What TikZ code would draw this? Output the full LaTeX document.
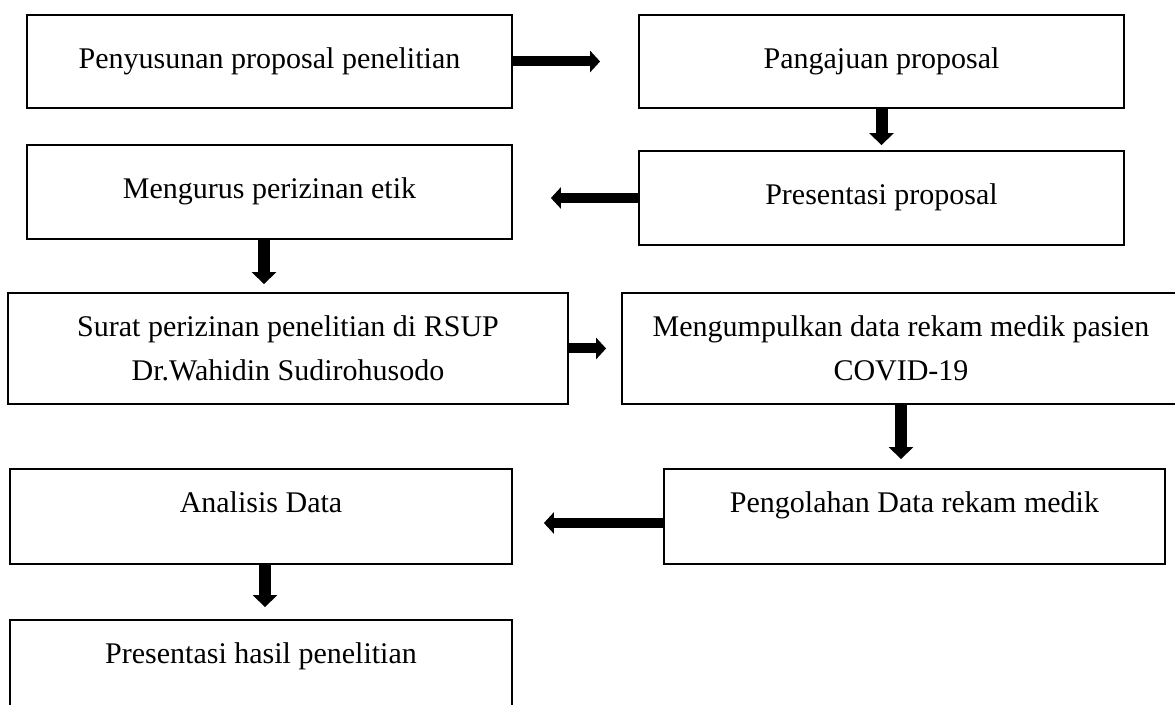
\documentclass[tikz,border=0pt]{standalone}
\usepackage{fontspec}
\setmainfont{Liberation Serif}
\usetikzlibrary{arrows.meta}

\begin{document}
\begin{tikzpicture}[
  x=0.5pt, y=-0.5pt,
  font=\fontsize{15}{22}\selectfont,
  box/.style={draw, line width=0.9pt, align=center, inner sep=0pt},
  single/.style={box, text height=10pt, text depth=3pt},
  upper/.style={box, text height=10pt, text depth=13.8pt},
  hflow/.style={-{Triangle[length=5pt, width=10.5pt]}, line width=5pt},
  vflow/.style={-{Triangle[length=6pt, width=12pt]}, line width=6pt},
  ]
  \def\Wn{242.5pt}
  \def\Hn{46.5pt}

  % Page
  \path[use as bounding box, fill=white] (0,0) rectangle (1175,705);

  % Proposal stage
  \node[single, minimum width=\Wn, minimum height=\Hn] (b1) at (269.5,61.5) {Penyusunan proposal penelitian};
  \node[single, minimum width=\Wn, minimum height=\Hn] (b2) at (881.5,61.5) {Pangajuan proposal};
  \node[single, minimum width=\Wn, minimum height=47pt] (b3) at (881.5,198) {Presentasi proposal};
  \node[single, minimum width=\Wn, minimum height=47pt] (b4) at (269.5,192) {Mengurus perizinan etik};

  % Permission and data collection (right box runs off the page)
  \node[box, minimum width=280pt, minimum height=55.5pt] (b5) at (288,348.5) {Surat perizinan penelitian di RSUP\\Dr.Wahidin Sudirohusodo};
  \node[box, minimum width=288pt, minimum height=55.5pt] (b6) at (910,348.5) {\hspace*{-9pt}Mengumpulkan data rekam medik pasien\\\hspace*{-9pt}COVID-19};

  % Processing and results
  \node[upper, minimum width=250.5pt, minimum height=47.5pt] (b7) at (914.5,516.5) {Pengolahan Data rekam medik};
  \node[upper, minimum width=251pt, minimum height=47.5pt] (b8) at (261,516.5) {Analisis Data};
  \node[upper, minimum width=251pt, minimum height=47.5pt] (b9) at (261,667.5) {Presentasi hasil penelitian};

  % Flow arrows
  \draw[hflow, shorten >=19pt] (b1.east) -- (b1.east -| b2.west);
  \draw[vflow, shorten >=2.5pt] (b2.south) -- (b3.north);
  \draw[hflow, shorten >=19pt] (b3.west) -- (b3.west -| b4.east);
  \draw[vflow, shorten >=4pt] ([xshift=-2.75pt]b4.south) -- ([xshift=-2.75pt]b4.south |- b5.north);
  \draw[hflow, shorten >=7.5pt] (b5.east) -- (b5.east -| b6.west);
  \draw[vflow, shorten >=4.5pt] ([xshift=-4.5pt]b6.south) -- ([xshift=-4.5pt]b6.south |- b7.north);
  \draw[hflow, shorten >=15.5pt] ([yshift=-3.25pt]b7.west) -- ([yshift=-3.25pt]b7.west -| b8.east);
  \draw[vflow, shorten >=6pt] ([xshift=2pt]b8.south) -- ([xshift=2pt]b8.south |- b9.north);
\end{tikzpicture}
\end{document}
